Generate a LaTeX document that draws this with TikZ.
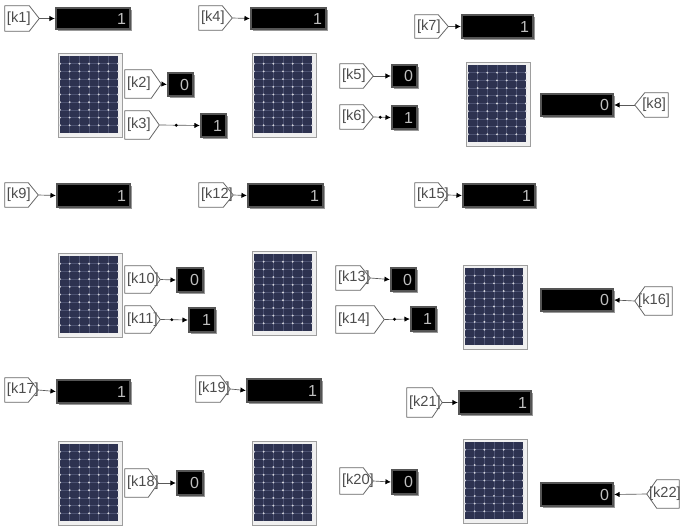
\documentclass[tikz,border=0pt]{standalone}
\usepackage{fontspec}
\setmainfont{Liberation Sans}
\usetikzlibrary{shadows,arrows.meta}
\definecolor{cell}{HTML}{2D3250}
\definecolor{cellline}{HTML}{4C5272}
\definecolor{frameg}{HTML}{9E9E9E}
\definecolor{edgeg}{HTML}{555555}
\definecolor{shadowg}{HTML}{999999}
\definecolor{digit}{HTML}{BEBEBE}
\tikzset{
  x=0.75pt,y=-0.75pt,
  tagbox/.style={rectangle,inner sep=0pt,font=\fontsize{11}{11}\selectfont,text=black!70,text height=0pt,text depth=0pt},
  tagline/.style={draw=black!60,line width=0.6pt,line join=round},
  dispbox/.style={rectangle,draw=edgeg,fill=black,line width=1.8pt,inner sep=0pt,text=digit,align=right,font=\fontsize{12}{12}\selectfont,text height=8.6pt,text depth=0pt,
    drop shadow={shadow xshift=1.6pt,shadow yshift=-1.6pt,fill=shadowg,opacity=1}},
  panelbox/.style={rectangle,draw=frameg,fill=black!6,line width=0.7pt,inner sep=0pt},
  wire/.style={draw=black!65,line width=0.5pt,-{Latex[length=4pt,width=4pt,black]}},
  dot/.style={circle,fill=black,inner sep=0pt,minimum size=2.4pt},
}
% name, x1,y1,x2,y2, text, direction
\newcommand{\tagnode}[7]{%
  \pgfmathsetmacro{\boxw}{(#4-#2)*0.75}\pgfmathsetmacro{\boxh}{(#5-#3)*0.75}\pgfmathsetmacro{\textw}{\boxw-3}%
  \ifx#7e%
    \node[tagbox,minimum height=\boxh pt,text width=\textw pt,inner xsep=1.5pt,align=left] (#1) at ({(#2+#4)/2},{(#3+#5)/2}) {\raisebox{-2.9pt}[0pt][0pt]{#6}};
    \draw[tagline] (#1.north west) -- ([xshift=-7.5pt]#1.north east) -- (#1.east) -- ([xshift=-7.5pt]#1.south east) -- (#1.south west) -- cycle;
  \else
    \node[tagbox,minimum height=\boxh pt,text width=\textw pt,inner xsep=1.5pt,align=right] (#1) at ({(#2+#4)/2},{(#3+#5)/2}) {\raisebox{-2.9pt}[0pt][0pt]{#6}};
    \draw[tagline] (#1.north east) -- ([xshift=7.5pt]#1.north west) -- (#1.west) -- ([xshift=7.5pt]#1.south west) -- (#1.south east) -- cycle;
  \fi}
\newcommand{\dispnode}[6]{%
  \pgfmathsetmacro{\boxw}{(#4-#2)*0.75}\pgfmathsetmacro{\boxh}{(#5-#3)*0.75}\pgfmathsetmacro{\textw}{\boxw-6}%
  \node[dispbox,minimum width=\boxw pt,minimum height=\boxh pt,text width=\textw pt] (#1) at ({(#2+#4)/2},{(#3+#5)/2}) {#6};}
\newcommand{\panelnode}[3]{%
  \node[panelbox,minimum width=48pt,minimum height=63pt,anchor=north west] (#1) at (#2,#3) {};
  \begin{scope}[shift={(#2,#3)}]
    \fill[cell] (2,3) rectangle (60,80);
    \foreach \i in {1,...,5} \draw[cellline,line width=0.35pt] ({2+\i*9.67},3) -- ({2+\i*9.67},80);
    \foreach \j in {1,...,9} {
      \draw[cellline,line width=0.5pt] (2,{3+\j*7.7}) -- (60,{3+\j*7.7});
      \foreach \i in {0,...,6} \fill[white!80!cell] ({2+\i*9.67},{3+\j*7.7}) circle (0.8pt);
    }
  \end{scope}}
\begin{document}
\begin{tikzpicture}
\useasboundingbox (0,0) rectangle (680,527);
% panels
\panelnode{p1}{58}{53}
\panelnode{p2}{252}{53}
\panelnode{p3}{466}{62}
\panelnode{p4}{58}{253}
\panelnode{p5}{252}{251}
\panelnode{p6}{463}{265}
\panelnode{p7}{58}{441}
\panelnode{p8}{252}{441}
\panelnode{p9}{463}{439}
% tags
\tagnode{k1}{5}{6}{39}{31}{[k1]}{e}
\tagnode{k2}{125}{70}{161}{98}{[k2]}{e}
\tagnode{k3}{125}{111}{159}{139}{[k3]}{e}
\tagnode{k4}{199}{6}{232}{30}{[k4]}{e}
\tagnode{k5}{340}{64}{373}{88}{[k5]}{e}
\tagnode{k6}{340}{105}{373}{129}{[k6]}{e}
\tagnode{k7}{415}{15}{448}{38}{[k7]}{e}
\tagnode{k8}{635}{93}{668}{117}{[k8]}{w}
\tagnode{k9}{5}{183}{38}{207}{[k9]}{e}
\tagnode{k10}{125}{266}{160}{293}{[k10]}{e}
\tagnode{k11}{125}{306}{160}{333}{[k11]}{e}
\tagnode{k12}{199}{183}{233}{207}{[k12]}{e}
\tagnode{k13}{336}{266}{370}{290}{[k13]}{e}
\tagnode{k14}{336}{306}{384}{333}{[k14]}{e}
\tagnode{k15}{415}{183}{448}{207}{[k15]}{e}
\tagnode{k16}{635}{287}{672}{315}{[k16]}{w}
\tagnode{k17}{5}{378}{38}{402}{[k17]}{e}
\tagnode{k18}{125}{469}{158}{497}{[k18]}{e}
\tagnode{k19}{196}{376}{230}{402}{[k19]}{e}
\tagnode{k20}{340}{468}{373}{494}{[k20]}{e}
\tagnode{k21}{407}{388}{442}{417}{[k21]}{e}
\tagnode{k22}{647}{480}{679}{508}{[k22]}{w}
% displays
\dispnode{d1}{56}{8}{130}{29}{1}
\dispnode{d2}{168}{73}{193}{96}{0}
\dispnode{d3}{201}{114}{226}{137}{1}
\dispnode{d4}{251}{8}{326}{29}{1}
\dispnode{d5}{392}{65}{417}{87}{0}
\dispnode{d6}{392}{106}{417}{129}{1}
\dispnode{d7}{462}{15}{533}{38}{1}
\dispnode{d8}{541}{94}{613}{116}{0}
\dispnode{d9}{57}{184}{130}{207}{1}
\dispnode{d10}{177}{268}{203}{292}{0}
\dispnode{d11}{189}{308}{215}{332}{1}
\dispnode{d12}{248}{184}{323}{207}{1}
\dispnode{d13}{391}{268}{416}{291}{0}
\dispnode{d14}{411}{307}{436}{331}{1}
\dispnode{d15}{463}{184}{535}{207}{1}
\dispnode{d16}{541}{289}{613}{311}{0}
\dispnode{d17}{57}{380}{130}{403}{1}
\dispnode{d18}{177}{471}{203}{495}{0}
\dispnode{d19}{247}{379}{321}{402}{1}
\dispnode{d20}{392}{470}{417}{494}{0}
\dispnode{d21}{459}{391}{531}{414}{1}
\dispnode{d22}{541}{483}{613}{506}{0}
% connectors
\draw[wire] (k1.east) -- (d1.west);
\draw[wire] (k2.east) -- (d2.west);
\draw[wire] (k3.east) -- node[dot,pos=0.42] (j3) {} (d3.west);
\draw[wire] (k4.east) -- (d4.west);
\draw[wire] (k5.east) -- (d5.west);
\draw[wire] (k6.east) -- node[dot,pos=0.4] (j6) {} (d6.west);
\draw[wire] (k7.east) -- (d7.west);
\draw[wire] (k8.west) -- (d8.east);
\draw[wire] (k9.east) -- (d9.west);
\draw[wire] (k10.east) -- (d10.west);
\draw[wire] (k11.east) -- node[dot,pos=0.42] (j11) {} (d11.west);
\draw[wire] (k12.east) -- (d12.west);
\draw[wire] (k13.east) -- (d13.west);
\draw[wire] (k14.east) -- node[dot,pos=0.4] (j14) {} (d14.west);
\draw[wire] (k15.east) -- (d15.west);
\draw[wire] (k16.west) -- (d16.east);
\draw[wire] (k17.east) -- (d17.west);
\draw[wire] (k18.east) -- (d18.west);
\draw[wire] (k19.east) -- (d19.west);
\draw[wire] (k20.east) -- (d20.west);
\draw[wire] (k21.east) -- (d21.west);
\draw[wire] (k22.west) -- (d22.east);
\end{tikzpicture}
\end{document}
